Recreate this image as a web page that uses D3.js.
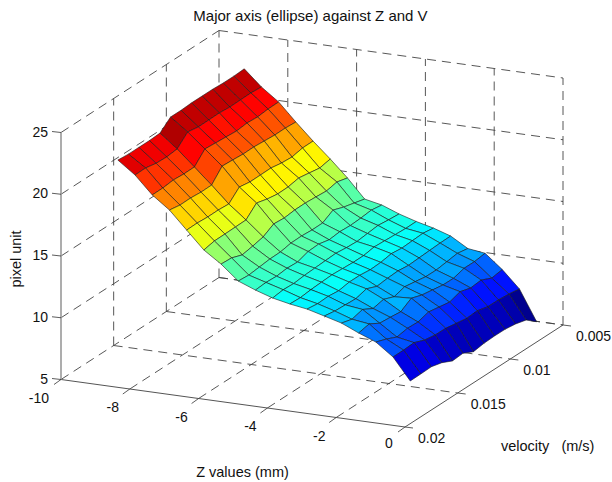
<!DOCTYPE html>
<html>
<head>
<meta charset="utf-8">
<script src="https://cdn.jsdelivr.net/npm/d3@7"></script>
<style>
  html, body { margin: 0; padding: 0; background: #fff; }
  text { font-family: "Liberation Sans", Arial, sans-serif; fill: #111; }
</style>
</head>
<body>
<svg id="chart" width="612" height="482"></svg>
<script>
const xTicks = [-10, -8, -6, -4, -2, 0];
const vTicks = [0.02, 0.015, 0.01, 0.005];
const zTicks = [5, 10, 15, 20, 25];

// sample positions of the mesh
const xValues = [-8.5, -8, -7.5, -7, -6.5, -6, -5.5, -5, -4.5, -4, -3.5, -3, -2.5, -2, -1.5, -1, -0.5, 0];
const vValues = [0.0195, 0.0185, 0.0175, 0.0165, 0.0155, 0.0145, 0.0135, 0.0125, 0.0115, 0.0105, 0.0095, 0.0085, 0.0075];

// one row per x value, one column per velocity
const majorAxis = [
  [23.07, 23.0, 23.0, 23.0, 23.05, 23.8, 23.8, 23.85, 23.85, 23.85, 23.8, 23.8, 23.85],
  [22.05, 22.07, 21.9, 21.86, 21.96, 22.78, 22.64, 22.65, 22.67, 22.6, 22.62, 22.64, 22.57],
  [20.63, 20.64, 20.74, 20.68, 20.69, 21.6, 21.53, 21.47, 21.4, 21.5, 21.44, 21.53, 21.55],
  [19.6, 19.45, 19.47, 19.4, 19.42, 20.4, 20.35, 20.28, 20.3, 20.23, 20.17, 20.18, 20.12],
  [18.17, 18.19, 18.13, 18.14, 18.08, 18.9, 18.76, 18.77, 18.79, 18.64, 18.58, 18.76, 18.77],
  [16.75, 16.93, 16.94, 16.96, 16.98, 17.8, 17.57, 17.43, 17.45, 17.62, 17.48, 17.33, 17.51],
  [15.8, 15.75, 15.44, 15.6, 15.8, 16.3, 16.23, 16.33, 16.34, 16.28, 16.21, 16.39, 16.17],
  [14.62, 14.55, 14.65, 14.75, 14.77, 14.94, 14.96, 14.9, 14.91, 15.41, 15.1, 14.88, 14.65],
  [14.08, 14.15, 14.1, 14.2, 14.15, 14.45, 14.5, 14.3, 14.4, 14.35, 14.4, 14.5, 14.36],
  [13.63, 13.75, 13.7, 13.8, 13.85, 13.9, 13.95, 13.85, 13.8, 13.9, 14.0, 13.9, 13.83],
  [13.34, 13.3, 13.4, 13.45, 13.5, 13.45, 13.4, 13.4, 13.55, 13.5, 13.45, 13.4, 13.41],
  [13.12, 13.0, 13.05, 12.95, 13.1, 13.1, 13.0, 13.05, 13.2, 13.1, 13.15, 13.2, 13.07],
  [12.75, 12.6, 12.55, 12.5, 12.75, 12.4, 12.5, 12.55, 12.45, 12.5, 12.55, 12.6, 12.62],
  [12.37, 12.13, 12.37, 11.9, 12.09, 11.75, 12.01, 11.87, 11.72, 11.71, 11.83, 11.96, 11.8],
  [11.76, 11.94, 11.45, 11.38, 11.28, 11.82, 11.53, 11.39, 11.24, 11.23, 11.49, 11.48, 11.61],
  [11.22, 10.91, 10.52, 10.68, 10.64, 10.9, 10.75, 10.6, 10.89, 10.64, 10.73, 10.34, 10.48],
  [10.2, 10.21, 10.26, 9.92, 9.78, 9.77, 9.62, 9.48, 9.54, 9.32, 9.31, 9.24, 9.1],
  [8.45, 8.47, 8.5, 8.28, 7.87, 7.94, 7.52, 7.65, 7.69, 7.68, 7.56, 7.33, 6.64]
];

const svg = d3.select("#chart");

// Oblique projection: each data axis walks along its own screen direction
const xToScreenX = d3.scaleLinear().domain([-10, 0]).range([0, 344]);
const xToScreenY = d3.scaleLinear().domain([-10, 0]).range([0, 47.5]);
const vToScreenX = d3.scaleLinear().domain([0.02, 0.005]).range([0, 158]);
const vToScreenY = d3.scaleLinear().domain([0.02, 0.005]).range([0, -102]);
const zToScreenY = d3.scaleLinear().domain([5, 25]).range([0, -247]);
const project = (x, v, z) => [
  61 + xToScreenX(x) + vToScreenX(v),
  379.5 + xToScreenY(x) + vToScreenY(v) + zToScreenY(z)
];

// MATLAB jet
const zMin = d3.min(majorAxis.flat());
const zMax = d3.max(majorAxis.flat());
const jet = d3.scaleLinear()
  .domain([0, 0.125, 0.375, 0.625, 0.875, 1])
  .range(["#00008f", "#0000ff", "#00ffff", "#ffff00", "#ff0000", "#800000"]);
const colorOf = (z) => jet(Math.floor(((z - zMin) / (zMax - zMin)) * 63.999) / 63);

const line = d3.line();

// Grid on the floor and the two back walls
const gridLines = [];
for (const x of xTicks) {
  if (x > -10 && x < 0) gridLines.push([[x, 0.02, 5], [x, 0.005, 5]]);
  if (x > -10) gridLines.push([[x, 0.005, 5], [x, 0.005, 25]]);
}
for (const v of vTicks) {
  if (v < 0.02) {
    gridLines.push([[-10, v, 5], [0, v, 5]]);
    gridLines.push([[-10, v, 5], [-10, v, 25]]);
  }
}
for (const z of zTicks) {
  gridLines.push([[-10, 0.02, z], [-10, 0.005, z]]);
  gridLines.push([[-10, 0.005, z], [0, 0.005, z]]);
}

svg.append("g")
  .selectAll("path")
  .data(gridLines)
  .join("path")
  .attr("d", (d) => line(d.map((p) => project(p[0], p[1], p[2]))))
  .attr("fill", "none")
  .attr("stroke", "#444")
  .attr("stroke-width", 0.9)
  .attr("stroke-dasharray", "9,6");

// Solid axes
const axisLines = [
  { from: [-10, 0.02, 5], to: [0, 0.02, 5], color: "#555", width: 1 },
  { from: [0, 0.02, 5], to: [0, 0.005, 5], color: "#555", width: 1 },
  { from: [-10, 0.02, 5], to: [-10, 0.02, 25], color: "#999", width: 1.6 }
];
svg.append("g")
  .selectAll("path")
  .data(axisLines)
  .join("path")
  .attr("d", (d) => line([project(...d.from), project(...d.to)]))
  .attr("stroke", (d) => d.color)
  .attr("stroke-width", (d) => d.width);

// Tick marks
const tickMarks = [
  ...xTicks.map((x) => {
    const [px, py] = project(x, 0.02, 5);
    return [[px, py], [px - 7, py + 5]];
  }),
  ...vTicks.map((v) => {
    const [px, py] = project(0, v, 5);
    return [[px, py], [px + 8, py + 1]];
  }),
  ...zTicks.map((z) => {
    const [px, py] = project(-10, 0.02, z);
    return [[px, py], [px - 9, py - 1]];
  })
];
svg.append("g")
  .selectAll("path")
  .data(tickMarks)
  .join("path")
  .attr("d", (d) => line(d))
  .attr("stroke", "#333")
  .attr("stroke-width", 0.8);

// Mesh faces, far ones first. The face colour comes from its highest index corner
const faces = [];
for (let i = 0; i < xValues.length - 1; i++) {
  for (let j = vValues.length - 2; j >= 0; j--) {
    faces.push({
      z: majorAxis[i + 1][j + 1],
      corners: [[i, j], [i + 1, j], [i + 1, j + 1], [i, j + 1]]
    });
  }
}
svg.append("g")
  .selectAll("path")
  .data(faces)
  .join("path")
  .attr("d", (d) => line(d.corners.map(([i, j]) => project(xValues[i], vValues[j], majorAxis[i][j]))) + "Z")
  .attr("fill", (d) => colorOf(d.z))
  .attr("stroke", "#1a1a1a")
  .attr("stroke-width", 0.6)
  .attr("stroke-linejoin", "round");

// Tick labels
const tickLabel = (label, x, y, anchor) => svg.append("text")
  .attr("x", x)
  .attr("y", y)
  .attr("text-anchor", anchor)
  .attr("dominant-baseline", "central")
  .attr("font-size", 14)
  .text(label);

for (const z of zTicks) {
  tickLabel(z, 48, project(-10, 0.02, z)[1] - 1, "end");
}
const xLabelOffsets = { "-10": [-12, 18], "0": [-16, 16] };
for (const x of xTicks) {
  const [px, py] = project(x, 0.02, 5);
  const off = xLabelOffsets[x] || [-17, 18];
  tickLabel(x, px + off[0], py + off[1], x === -10 ? "end" : "middle");
}
for (const v of vTicks) {
  const [px, py] = project(0, v, 5);
  tickLabel(v, px + 13, py + 11, "start");
}

// Title and axis labels
svg.append("text")
  .attr("x", 310.5)
  .attr("y", 15)
  .attr("text-anchor", "middle")
  .attr("dominant-baseline", "central")
  .attr("font-size", 15)
  .text("Major axis (ellipse) against Z and V");
svg.append("text")
  .attr("x", 242.5)
  .attr("y", 472)
  .attr("text-anchor", "middle")
  .attr("dominant-baseline", "central")
  .attr("font-size", 14.5)
  .text("Z values (mm)");
svg.append("text")
  .attr("x", 501)
  .attr("y", 446)
  .attr("dominant-baseline", "central")
  .attr("font-size", 14.5)
  .style("white-space", "pre")
  .text("velocity   (m/s)");
svg.append("text")
  .attr("transform", "translate(16,259) rotate(-90)")
  .attr("text-anchor", "middle")
  .attr("dominant-baseline", "central")
  .attr("font-size", 14.5)
  .text("pixel unit");
</script>
</body>
</html>
